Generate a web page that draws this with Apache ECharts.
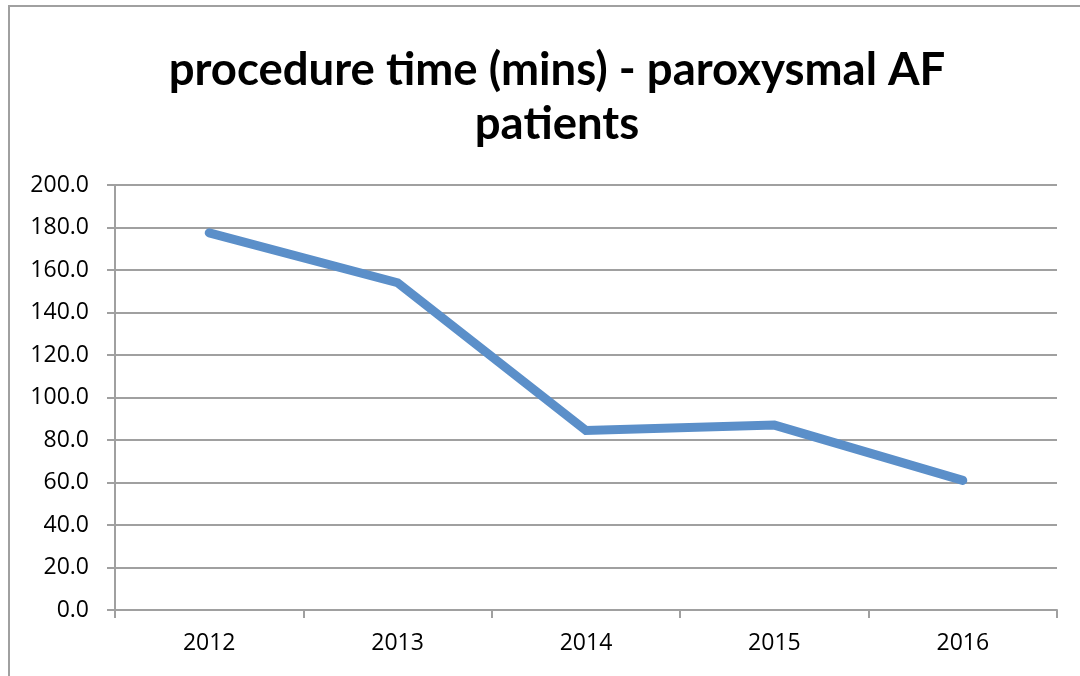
<!DOCTYPE html>
<html>
<head>
<meta charset="utf-8">
<script src="https://cdn.jsdelivr.net/npm/echarts@6/dist/echarts.min.js"></script>
<style>
  html, body { margin: 0; padding: 0; background: #fff; }
  #chart { width: 1080px; height: 676px; }
</style>
</head>
<body>
<div id="chart"></div>
<script>
// 数据
const years = ['2012', '2013', '2014', '2015', '2016']
const procedureTime = [177.5, 154.0, 84.5, 87.0, 61.0]
const yTicks = { min: 0, max: 200, interval: 20 }

const gridColor = '#a0a0a0'
const chart = echarts.init(document.getElementById('chart'))

const options = {
    backgroundColor: '#ffffff',
    animation: false,
    title: {
        text: 'procedure time (mins) - paroxysmal AF\npatients',
        left: 552,
        textAlign: 'center',
        top: 38,
        textStyle: {
            fontFamily: 'Lato',
            fontWeight: 'bold',
            fontSize: 45.5,
            lineHeight: 54,
            color: '#000'
        }
    },
    graphic: [{
        type: 'rect',
        shape: { x: 9, y: 6, width: 1100, height: 700 },
        style: { fill: 'none', stroke: gridColor, lineWidth: 2 },
        silent: true
    }],
    grid: { left: 115, right: 23, top: 185, bottom: 66 },
    xAxis: {
        type: 'category',
        data: years,
        boundaryGap: true,
        axisLine: { lineStyle: { color: gridColor, width: 2 } },
        axisTick: { show: true, length: 8, lineStyle: { color: gridColor, width: 2 } },
        axisLabel: { color: '#000', fontSize: 23, fontFamily: 'Open Sans', margin: 22 }
    },
    yAxis: {
        type: 'value',
        min: yTicks.min,
        max: yTicks.max,
        interval: yTicks.interval,
        axisLine: { show: true, lineStyle: { color: gridColor, width: 2 } },
        axisTick: { show: true, length: 8, lineStyle: { color: gridColor, width: 2 } },
        splitLine: { lineStyle: { color: gridColor, width: 2 } },
        axisLabel: {
            color: '#000',
            fontSize: 23,
            fontFamily: 'Open Sans',
            margin: 26,
            formatter: v => v.toFixed(1)
        }
    },
    series: [{
        name: 'procedure time',
        type: 'line',
        data: procedureTime,
        showSymbol: false,
        symbol: 'none',
        lineStyle: { color: '#5b8fc9', width: 9, cap: 'round', join: 'miter' }
    }]
}

chart.setOption(options)
</script>
</body>
</html>
